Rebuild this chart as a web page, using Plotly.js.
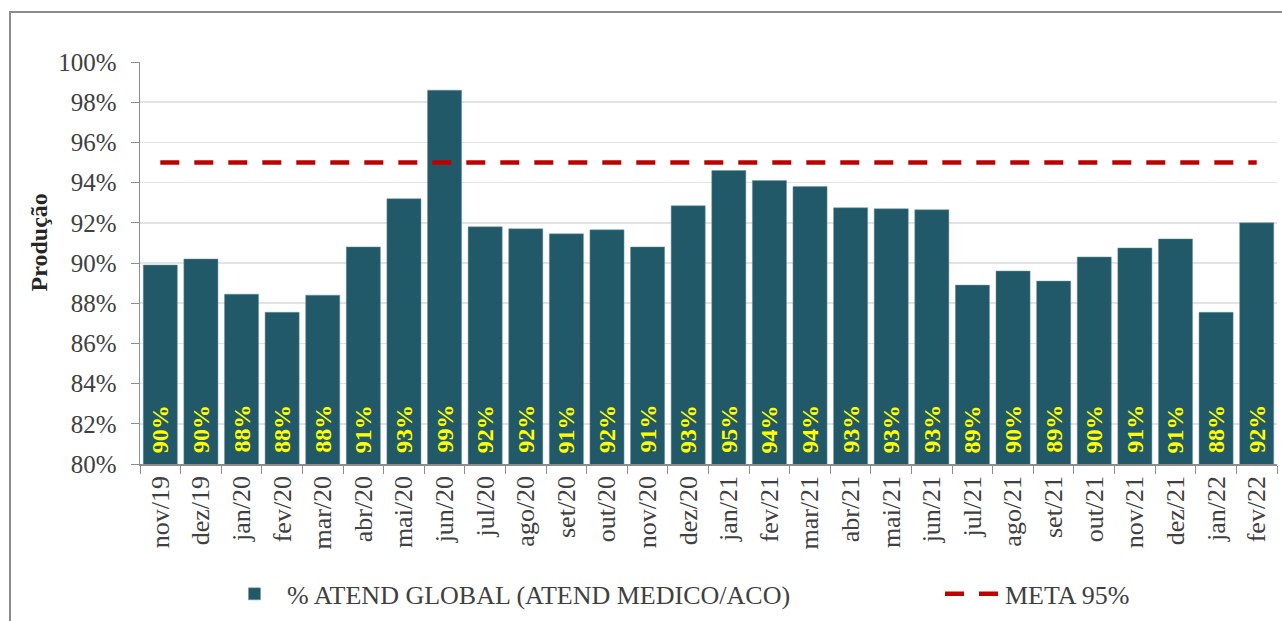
<!DOCTYPE html>
<html>
<head>
<meta charset="utf-8">
<script src="https://cdn.plot.ly/plotly-3.0.1.min.js"></script>
<style>
  html, body { margin: 0; padding: 0; background: #fff; }
  #wrap { position: relative; width: 1282px; height: 621px; overflow: hidden; }
  #frame { position: absolute; left: 9px; top: 11px; width: 1300px; height: 700px;
           border-left: 2px solid #8c8c8c; border-top: 2px solid #8c8c8c; pointer-events: none; }
  #chart { position: absolute; left: 0; top: 0; width: 1282px; height: 621px; }
</style>
</head>
<body>
<div id="wrap">
  <div id="chart"></div>
  <div id="frame"></div>
</div>
<script>
const categories = ["nov/19","dez/19","jan/20","fev/20","mar/20","abr/20","mai/20","jun/20","jul/20","ago/20","set/20","out/20","nov/20","dez/20","jan/21","fev/21","mar/21","abr/21","mai/21","jun/21","jul/21","ago/21","set/21","out/21","nov/21","dez/21","jan/22","fev/22"];
const atendGlobal = [89.9, 90.2, 88.45, 87.55, 88.4, 90.8, 93.2, 98.6, 91.8, 91.7, 91.45, 91.65, 90.8, 92.85, 94.6, 94.1, 93.8, 92.75, 92.7, 92.65, 88.9, 89.6, 89.1, 90.3, 90.75, 91.2, 87.55, 92.0];
const metaValue = 95;
const meta = categories.map(() => metaValue);
const seriesNames = ["% ATEND GLOBAL (ATEND MEDICO/ACO)", "META 95%"];
const yAxisTitle = "Produção";
const yMin = 80, yMax = 100;

const serif = "Liberation Serif, Times New Roman, serif";

const traces = [
  {
    type: "bar",
    name: seriesNames[0],
    x: categories,
    y: atendGlobal,
    marker: { color: "#215968", line: { color: "#6f97a3", width: 0.5 } },
    legend: "legend",
    hoverinfo: "x+y"
  },
  {
    type: "scatter",
    mode: "lines",
    name: seriesNames[1],
    x: categories,
    y: meta,
    legend: "legend2",
    line: { color: "#c00000", width: 4.5, dash: "19px,15px" }
  }
];

// data labels at the base of each bar, taken from the series values
const labelAnnotations = categories.map((c, i) => ({
  x: c,
  y: yMin,
  xref: "x",
  yref: "y",
  text: Math.round(atendGlobal[i]) + "%",
  textangle: -90,
  showarrow: false,
  xanchor: "center",
  yanchor: "bottom",
  yshift: 9,
  font: { family: serif, size: 24, color: "#ffff00", weight: "bold" }
}));

const layout = {
  width: 1282,
  height: 621,
  margin: { l: 140, r: 5, t: 62, b: 156 },
  paper_bgcolor: "#ffffff",
  plot_bgcolor: "#ffffff",
  bargap: 0.16,
  showlegend: true,
  font: { family: serif, color: "#404040" },
  xaxis: {
    type: "category",
    tickangle: -90,
    tickfont: { family: serif, size: 26, color: "#404040" },
    showline: true,
    linecolor: "#8c8c8c",
    linewidth: 1.5,
    ticks: "outside",
    ticklen: 8,
    tickcolor: "#8c8c8c",
    tickson: "boundaries",
    showgrid: false,
    zeroline: false
  },
  yaxis: {
    range: [yMin, yMax],
    dtick: 2,
    tick0: yMin,
    ticksuffix: "%",
    tickfont: { family: serif, size: 25, color: "#404040" },
    showline: true,
    linecolor: "#8c8c8c",
    linewidth: 1.5,
    ticks: "outside",
    ticklen: 8,
    tickcolor: "#8c8c8c",
    ticklabelstandoff: 9,
    showgrid: true,
    gridcolor: "#e3e3e3",
    gridwidth: 1.5,
    zeroline: false,
    fixedrange: true
  },
  legend: {
    orientation: "h",
    x: 0.0721,
    xanchor: "left",
    y: -0.32,
    yanchor: "middle",
    font: { family: serif, size: 26, color: "#404040" },
    itemwidth: 55,
    bgcolor: "rgba(0,0,0,0)"
  },
  legend2: {
    orientation: "h",
    x: 0.7036,
    xanchor: "left",
    y: -0.32,
    yanchor: "middle",
    font: { family: serif, size: 26, color: "#404040" },
    itemwidth: 55,
    bgcolor: "rgba(0,0,0,0)"
  },
  annotations: [
    {
      text: yAxisTitle,
      xref: "paper", yref: "paper",
      x: -0.088, y: 0.551,
      xanchor: "center", yanchor: "middle",
      textangle: -90,
      showarrow: false,
      font: { family: serif, size: 24, color: "#262626", weight: "bold" }
    }
  ].concat(labelAnnotations)
};

Plotly.newPlot("chart", traces, layout, { displayModeBar: false, staticPlot: true });
</script>
</body>
</html>
